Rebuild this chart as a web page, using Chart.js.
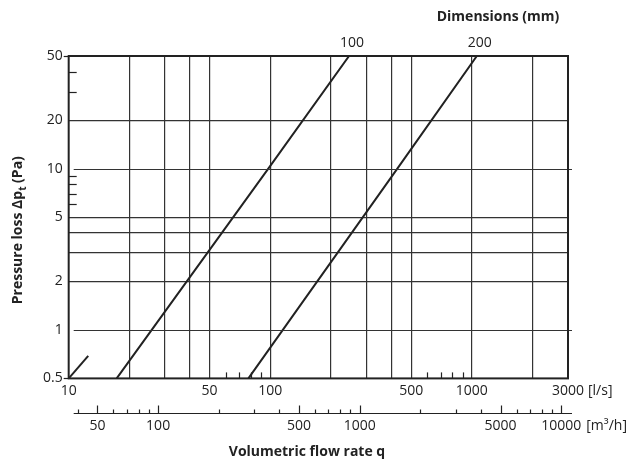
<!DOCTYPE html>
<html>
<head>
<meta charset="utf-8">
<script src="https://cdn.jsdelivr.net/npm/chart.js@4"></script>
<style>
html,body{margin:0;padding:0;background:#fff;}
#wrap{width:627px;height:463px;}
</style>
</head>
<body>
<div id="wrap"><canvas id="lossChart"></canvas></div>
<script>
// curves: flow in l/s, loss in Pa
const sizes = ["100", "200", ""];
const flow100 = [17.3, 97.8, 246];
const loss100 = [0.5, 10, 50];
const flow200 = [77.9, 427, 1059];
const loss200 = [0.5, 10, 50];
const flowShort = [10, 12.5];
const lossShort = [0.5, 0.69];

// axis ticks
const flowTicks = [10,20,30,40,50,60,70,80,90,100,200,300,400,500,600,700,800,900,1000,2000,3000];
const flowLabels = [10,50,100,500,1000,3000];
const flowGrid = [20,30,40,50,100,200,300,400,500,1000,2000];
const m3hTicks = [40,50,60,70,80,90,100,200,300,400,500,600,700,800,900,1000,2000,3000,4000,5000,6000,7000,8000,9000,10000];
const m3hLabels = [50,100,500,1000,5000,10000];
const lossTicks = [0.5,1,2,3,4,5,6,7,8,9,10,20,30,40,50];
const lossLabels = [0.5,1,2,5,10,20,50];
const lossGrid = [2,3,4,5,20];
const lossGridGap = [1,10];

const ink = '#222';
const gridInk = '#333';
const font = {family:'Open Sans', size:14};

function pts(xs, ys){ return xs.map((x,i)=>({x:x, y:ys[i]})); }

const decor = {
  id:'decor',
  afterDraw(chart){
    const c = chart.ctx, a = chart.chartArea;
    const x = chart.scales.x, x2 = chart.scales.x2, y = chart.scales.y;
    c.save();
    c.strokeStyle = gridInk; c.lineWidth = 1.2;
    // 1 and 10 lines start a bit off the axis
    lossGridGap.forEach(v=>{
      const py = Math.round(y.getPixelForValue(v))+0.5;
      c.beginPath(); c.moveTo(a.left+5, py); c.lineTo(a.right+4, py); c.stroke();
    });
    c.strokeStyle = ink;
    // short inward ticks on y
    lossTicks.filter(v=>!lossLabels.includes(v) && !lossGrid.includes(v)).forEach(v=>{
      const py = Math.round(y.getPixelForValue(v))+0.5;
      c.beginPath(); c.moveTo(a.left, py); c.lineTo(a.left+8, py); c.stroke();
    });
    [0.5, 50].forEach(v=>{
      const py = Math.round(y.getPixelForValue(v))+0.5;
      c.beginPath(); c.moveTo(a.left-5, py); c.lineTo(a.left, py); c.stroke();
    });
    // short inward ticks on x
    flowTicks.filter(v=>!flowLabels.includes(v) && !flowGrid.includes(v)).forEach(v=>{
      const px = Math.round(x.getPixelForValue(v))+0.5;
      c.beginPath(); c.moveTo(px, a.bottom); c.lineTo(px, a.bottom-6); c.stroke();
    });
    // frame
    c.lineWidth = 2;
    c.strokeRect(a.left, a.top, a.right-a.left, a.bottom-a.top);
    // m3/h axis
    const ly = Math.round(x2.top + 10)+0.5;
    c.lineWidth = 1.2;
    c.beginPath(); c.moveTo(a.left+5, ly); c.lineTo(a.right+4, ly); c.stroke();
    m3hTicks.forEach(v=>{
      const px = Math.round(x2.getPixelForValue(v))+0.5;
      const len = m3hLabels.includes(v) ? 8 : 4;
      c.beginPath(); c.moveTo(px, ly); c.lineTo(px, ly-len); c.stroke();
    });
    // units
    c.fillStyle = ink;
    c.font = '14px "Open Sans"';
    c.textBaseline = 'middle'; c.textAlign = 'left';
    c.fillText('[l/s]', x.getPixelForValue(3000) + c.measureText('3000').width/2 + 4, x.top + 4 + 8.4);
    c.fillText('[m³/h]', x2.getPixelForValue(10000) + c.measureText('10000').width/2 + 5, x2.top + 14 + 8.4);
    // size labels at the curve ends
    c.textAlign = 'center';
    chart.data.datasets.forEach((ds,i)=>{
      if(!sizes[i]) return;
      const pt = chart.getDatasetMeta(i).data.slice(-1)[0];
      c.fillText(sizes[i], pt.x+3, pt.y-13);
    });
    c.font = 'bold 14px "Open Sans"';
    c.fillText('Dimensions (mm)', 498, 17);
    c.fillText('Volumetric flow rate q', 307, 452);
    // y title with subscript
    c.translate(18, (a.top+a.bottom)/2 + 13);
    c.rotate(-Math.PI/2);
    c.textAlign = 'left';
    const p1 = 'Pressure loss \u0394p', p2 = ' (Pa)';
    const w1 = c.measureText(p1).width, w3 = c.measureText(p2).width;
    c.font = 'bold 10px "Open Sans"';
    const w2 = c.measureText('t').width;
    let sx = -(w1+w2+w3)/2;
    c.font = 'bold 14px "Open Sans"';
    c.fillText(p1, sx, 0);
    c.font = 'bold 10px "Open Sans"';
    c.fillText('t', sx+w1, 5);
    c.font = 'bold 14px "Open Sans"';
    c.fillText(p2, sx+w1+w2, 0);
    c.restore();
  }
};

const lineStyle = {borderColor:ink, borderWidth:2, pointRadius:0, fill:false, tension:0};

new Chart(document.getElementById('lossChart'), {
  type:'line',
  data:{
    datasets:[
      Object.assign({label:sizes[0], data:pts(flow100, loss100)}, lineStyle),
      Object.assign({label:sizes[1], data:pts(flow200, loss200)}, lineStyle),
      Object.assign({label:sizes[2], data:pts(flowShort, lossShort)}, lineStyle)
    ]
  },
  options:{
    responsive:true,
    maintainAspectRatio:false,
    animation:false,
    layout:{padding:{left:37, right:59, top:56, bottom:25}},
    plugins:{legend:{display:false}, tooltip:{enabled:false}},
    scales:{
      x:{
        type:'logarithmic', position:'bottom', min:10, max:3000,
        afterBuildTicks: s => { s.ticks = flowTicks.map(v=>({value:v})); },
        ticks:{autoSkip:false, maxRotation:0, padding:4, color:ink, font:font,
          callback: v => flowLabels.includes(v) ? String(v) : ''},
        grid:{drawTicks:false, lineWidth:1.2,
          color: ctx => (ctx.tick && flowGrid.includes(ctx.tick.value)) ? gridInk : 'rgba(0,0,0,0)'},
        border:{display:false}
      },
      x2:{
        type:'logarithmic', position:'bottom', min:10*3.6, max:3000*3.6,
        afterBuildTicks: s => { s.ticks = m3hTicks.map(v=>({value:v})); },
        ticks:{autoSkip:false, maxRotation:0, padding:4, color:ink, font:font,
          callback: v => m3hLabels.includes(v) ? String(v) : ''},
        grid:{drawOnChartArea:false, drawTicks:true, tickLength:10, tickColor:'rgba(0,0,0,0)'},
        border:{display:false}
      },
      y:{
        type:'logarithmic', min:0.5, max:50,
        afterBuildTicks: s => { s.ticks = lossTicks.map(v=>({value:v})); },
        ticks:{autoSkip:false, padding:6, color:ink, font:font,
          callback: v => lossLabels.includes(v) ? String(v) : ''},
        grid:{drawTicks:false, lineWidth:1.2,
          color: ctx => (ctx.tick && lossGrid.includes(ctx.tick.value)) ? gridInk : 'rgba(0,0,0,0)'},
        border:{display:false}
      }
    }
  },
  plugins:[decor]
});
</script>
</body>
</html>
